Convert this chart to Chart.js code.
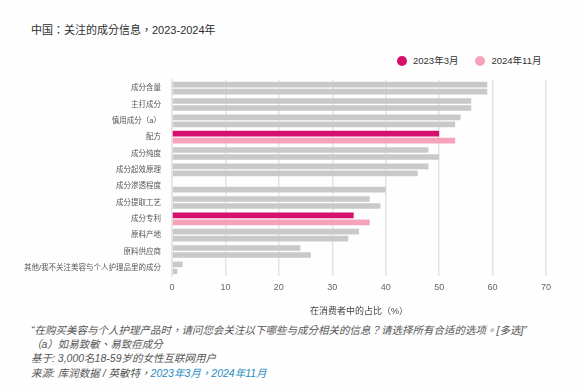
<!DOCTYPE html>
<html lang="zh-CN">
<head>
<meta charset="utf-8">
<title>中国：关注的成分信息，2023-2024年</title>
<script src="https://cdn.jsdelivr.net/npm/chart.js@4/dist/chart.umd.min.js"></script>
<style>
  html, body { margin: 0; padding: 0; }
  body {
    width: 581px; height: 390px; position: relative; overflow: hidden;
    background: #fefefe;
    font-family: "Liberation Sans", "Noto Sans CJK SC", sans-serif;
    color: #333;
  }
  /* TC face: centred full-width punctuation, as in the reference */
  .tc { font-family: "Liberation Sans", "Noto Sans CJK TC", sans-serif; }
  #title {
    position: absolute; left: 31px; top: 22px;
    font-size: 11px; line-height: 16px; color: #2e2e2e;
  }
  #legend {
    position: absolute; left: 397px; top: 53px;
    display: flex; font-size: 9.5px; line-height: 16px; color: #333;
  }
  .lg-item { display: flex; align-items: center; margin-right: 17px; }
  .lg-dot { width: 10px; height: 10px; border-radius: 50%; margin-right: 6px; }
  #chart-wrap { position: absolute; left: 0; top: 0; width: 581px; height: 320px; }
  #notes {
    position: absolute; left: 31px; top: 323px;
    font-size: 10.5px; line-height: 14.2px; color: #555; font-style: italic;
  }
  #notes .blue { color: #2a8bc2; }
</style>
</head>
<body>
<div id="title" class="tc" lang="zh-TW">中国：关注的成分信息，2023-2024年</div>
<div id="legend"></div>
<div id="chart-wrap"><canvas id="chart" width="581" height="320"></canvas></div>
<div id="notes" class="tc" lang="zh-TW">
  <div>“在购买美容与个人护理产品时，请问您会关注以下哪些与成分相关的信息？请选择所有合适的选项。[多选]”</div>
  <div>（a）如易致敏、易致痘成分</div>
  <div>基于: 3,000名18-59岁的女性互联网用户</div>
  <div>来源: 库润数据 / 英敏特，<span class="blue">2023年3月，2024年11月</span></div>
</div>
<script>
// ── Data ───────────────────────────────────────────────────────────────────
const categories = [
  '成分含量', '主打成分', '慎用成分（a）', '配方', '成分纯度', '成分起效原理',
  '成分渗透程度', '成分提取工艺', '成分专利', '原料产地', '原料供应商',
  '其他/我不关注美容与个人护理品里的成分'
];
const seriesNames = ['2023年3月', '2024年11月'];
const values2023 = [59, 56, 54, 50, 48, 48, null, 37, 34, 35, 24, 2];
const values2024 = [59, 56, 53, 53, 50, 46, 40, 39, 37, 33, 26, 1];
const highlighted = ['配方', '成分专利'];
const xTicks = [0, 10, 20, 30, 40, 50, 60, 70];

// ── Colours ────────────────────────────────────────────────────────────────
const GREY   = '#c9c9c9';
const DARK   = '#d50f6b';
const LIGHT  = '#f5a2ba';

const colorsFor = hi => categories.map(c => highlighted.includes(c) ? hi : GREY);

// ── Legend (html) ──────────────────────────────────────────────────────────
document.getElementById('legend').innerHTML = seriesNames.map((name, i) => `
  <div class="lg-item">
    <span class="lg-dot" style="background:${i === 0 ? DARK : LIGHT}"></span>${name}
  </div>`).join('');

// ── Chart ──────────────────────────────────────────────────────────────────
const FONT = '"Liberation Sans", "Noto Sans CJK SC", sans-serif';

new Chart(document.getElementById('chart').getContext('2d'), {
  type: 'bar',
  data: {
    labels: categories,
    datasets: [
      { label: seriesNames[0], data: values2023, backgroundColor: colorsFor(DARK) },
      { label: seriesNames[1], data: values2024, backgroundColor: colorsFor(LIGHT) },
    ],
  },
  options: {
    indexAxis: 'y',
    responsive: false,
    animation: false,
    devicePixelRatio: 1,
    layout: { padding: { top: 80, right: 35, bottom: 0, left: 0 } },
    datasets: { bar: { categoryPercentage: 0.86, barPercentage: 0.8 } },
    plugins: { legend: { display: false }, tooltip: { enabled: false } },
    scales: {
      x: {
        min: 0, max: 70,
        afterBuildTicks: s => { s.ticks = xTicks.map(v => ({ value: v })); },
        afterFit: s => { s.height = 44; },
        grid: { color: '#e4e4e4', lineWidth: 1.5, drawTicks: false },
        border: { display: false },
        ticks: { padding: 6, color: '#666', font: { family: FONT, size: 9 } },
        title: {
          display: true, text: '在消费者中的占比（%）', color: '#444',
          font: { family: FONT, size: 9 }, padding: { top: 0, bottom: 3 },
        },
      },
      y: {
        afterFit: s => { s.width = 172; },
        grid: { display: false, drawTicks: false },
        border: { display: true, color: '#e4e4e4', width: 1.5 },
        ticks: { padding: 11, color: '#555', font: { family: FONT, size: 7.5 } },
      },
    },
  },
});
</script>
</body>
</html>
